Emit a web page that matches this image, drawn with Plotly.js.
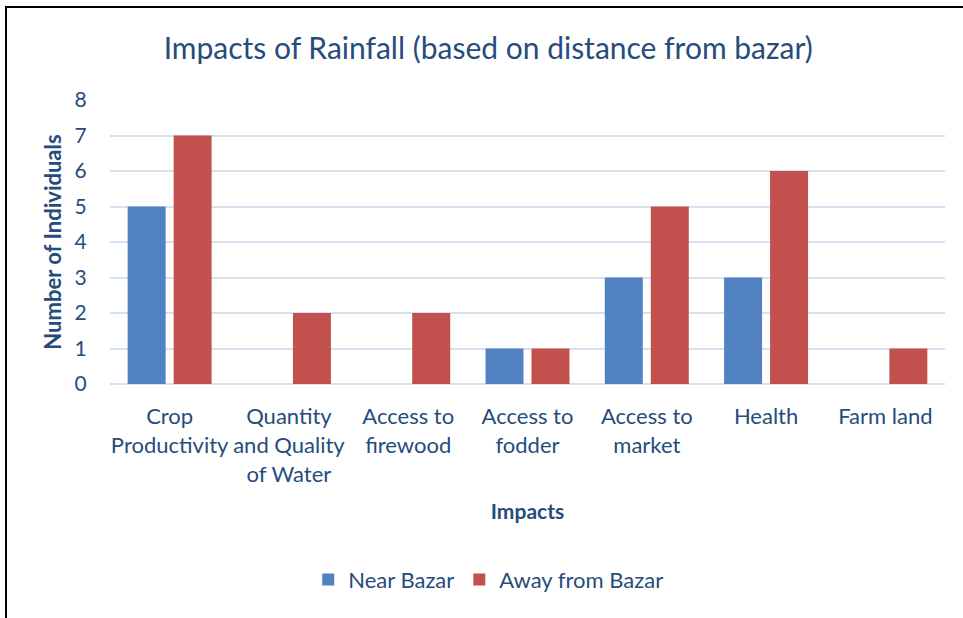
<!DOCTYPE html>
<html>
<head>
<meta charset="utf-8">
<script src="https://cdn.plot.ly/plotly-3.0.1.min.js"></script>
<style>
  html, body { margin: 0; padding: 0; background: #fff; }
  #wrap { position: relative; width: 963px; height: 618px; }
  #chart { position: absolute; left: 0; top: 0; width: 963px; height: 618px; }
  #frame { position: absolute; left: 5px; top: 6px; width: 970px; height: 620px;
           border-left: 2px solid #000; border-top: 2px solid #000; pointer-events: none; }
</style>
</head>
<body>
<div id="wrap">
  <div id="chart"></div>
  <div id="frame"></div>
</div>
<script>
const categories = [
  "Crop<br>Productivity",
  "Quantity<br>and Quality<br>of Water",
  "Access to<br>firewood",
  "Access to<br>fodder",
  "Access to<br>market",
  "Health",
  "Farm land"
];
const nearBazar = [5, 0, 0, 1, 3, 3, 0];
const awayFromBazar = [7, 2, 2, 1, 5, 6, 1];
const yTicks = [0, 1, 2, 3, 4, 5, 6, 7, 8];

const textColor = "#264C7C";
const fontFam = "Lato, 'Open Sans', sans-serif";

const traces = [
  { type: "bar", name: "Near Bazar", x: categories, y: nearBazar,
    marker: { color: "#5282C2" }, hoverinfo: "skip" },
  { type: "bar", name: "Away from Bazar", x: categories, y: awayFromBazar,
    marker: { color: "#C2504D" }, hoverinfo: "skip" }
];

const layout = {
  width: 963, height: 618,
  margin: { l: 110, r: 18, t: 100, b: 234 },
  paper_bgcolor: "#ffffff", plot_bgcolor: "#ffffff",
  font: { family: fontFam, color: textColor },
  title: { text: "Impacts of Rainfall (based on distance from bazar)",
           font: { size: 30, color: textColor, family: fontFam },
           x: 0.507, xref: "container", xanchor: "center", y: 0.922, yref: "container", yanchor: "middle" },
  barmode: "group", bargap: 0.229, bargroupgap: 0.174,
  xaxis: {
    type: "category",
    tickfont: { size: 22, color: textColor },
    ticks: "outside", ticklen: 13, tickcolor: "rgba(0,0,0,0)",
    showline: false, showgrid: false,
    title: { text: "<b>Impacts</b>", font: { size: 21, color: textColor }, standoff: 18 }
  },
  yaxis: {
    range: [0, 8], tickvals: yTicks, ticktext: yTicks.map(String),
    tickfont: { size: 21, color: textColor },
    ticks: "outside", ticklen: 18, tickcolor: "rgba(0,0,0,0)",
    showgrid: true, gridcolor: "#D6E1F0", gridwidth: 2,
    zeroline: true, zerolinecolor: "#D6E1F0", zerolinewidth: 2,
    showline: false,
    title: { text: "<b>Number of Individuals</b>", font: { size: 22, color: textColor }, standoff: 6 }
  },
  showlegend: true,
  legend: { orientation: "h", x: 0.507, xref: "container", xanchor: "center",
            y: 0.062, yref: "container", yanchor: "middle",
            font: { size: 22, color: textColor }, itemwidth: 30, traceorder: "normal" }
};

Plotly.newPlot("chart", traces, layout, { displayModeBar: false, staticPlot: true });
</script>
</body>
</html>
